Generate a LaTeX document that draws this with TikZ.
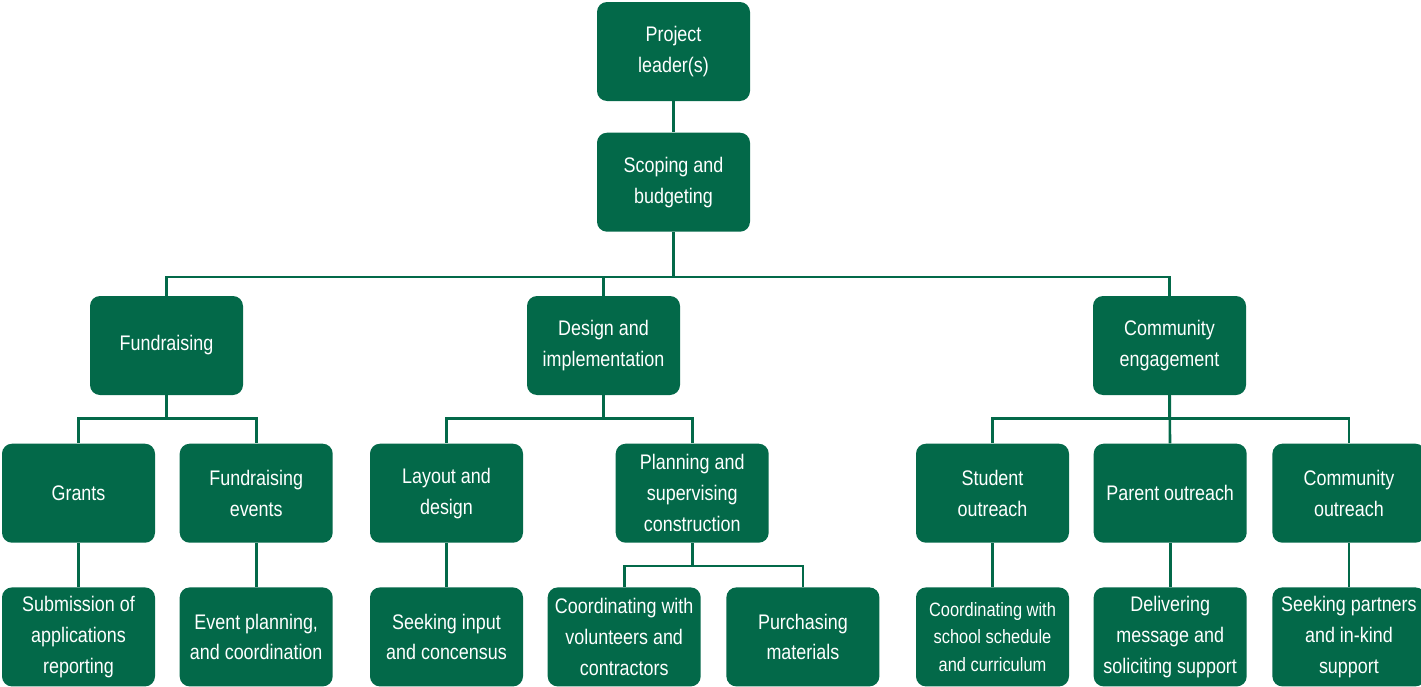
\documentclass[tikz,border=0pt]{standalone}
\usepackage{fontspec}
\setmainfont{Liberation Sans}[FakeStretch=0.85]
\usetikzlibrary{positioning}
\definecolor{verde}{HTML}{036949}

\begin{document}
\begin{tikzpicture}[
 caja/.style={rounded corners=0.2cm,fill=verde,text=white,align=center,minimum width=3.06cm,minimum height=1.98cm,inner sep=2pt,font=\fontsize{12}{17.5}\selectfont},
 linea/.style={draw=verde,line width=1.5pt}]
\useasboundingbox (0,0) rectangle (28.42,-13.74);
% cabeza del organigrama
\node[caja] (lider) at (13.47,-1.03) {Project\\leader(s)};
\node[caja,below=0.62cm of lider] (alcance) {Scoping and\\budgeting};
% tres ramas
\node[caja] (fondos) at (3.33,-6.91) {Fundraising};
\node[caja] (diseno) at (12.07,-6.91) {Design and\\implementation};
\node[caja] (comunidad) at (23.39,-6.91) {Community\\engagement};
% segundo nivel
\node[caja,below=0.96cm of fondos,xshift=-1.76cm] (becas) {Grants};
\node[caja,right=0.48cm of becas] (eventos) {Fundraising\\events};
\node[caja,below=0.96cm of diseno,xshift=-3.14cm] (trazado) {Layout and\\design};
\node[caja,right=1.84cm of trazado] (obra) {Planning and\\supervising\\construction};
\node[caja,below=0.96cm of comunidad,xshift=-3.54cm] (alumnos) {Student\\outreach};
\node[caja,right=0.48cm of alumnos] (padres) {Parent outreach};
\node[caja,right=0.5cm of padres] (vecinos) {Community\\outreach};
% tareas
\node[caja,below=0.88cm of becas] (solicitudes) {Submission of\\applications\\reporting};
\node[caja,below=0.88cm of eventos] (planificacion) {Event planning,\\and coordination};
\node[caja,below=0.88cm of trazado] (consenso) {Seeking input\\and concensus};
\node[caja,below=0.88cm of obra,xshift=-1.36cm] (voluntarios) {Coordinating with\\volunteers and\\contractors};
\node[caja,right=0.5cm of voluntarios] (compras) {Purchasing\\materials};
\node[caja,below=0.88cm of alumnos,font=\fontsize{11}{15.5}\selectfont] (horario) {Coordinating with\\school schedule\\and curriculum};
\node[caja,below=0.88cm of padres] (mensaje) {Delivering\\message and\\soliciting support};
\node[caja,below=0.88cm of vecinos] (socios) {Seeking partners\\and in-kind\\support};
% conectores
\draw[linea] (lider)--(alcance);
\draw[linea] (alcance.south)--++(0,-0.9) -| (fondos.north);
\draw[linea] (alcance.south)--++(0,-0.9) -| (diseno.north);
\draw[linea] (alcance.south)--++(0,-0.9) -| (comunidad.north);
\draw[linea] (fondos.south)--++(0,-0.46) -| (becas.north);
\draw[linea] (fondos.south)--++(0,-0.46) -| (eventos.north);
\draw[linea] (diseno.south)--++(0,-0.46) -| (trazado.north);
\draw[linea] (diseno.south)--++(0,-0.46) -| (obra.north);
\draw[linea] (comunidad.south)--++(0,-0.46) -| (alumnos.north);
\draw[linea] (comunidad)--(padres);
\draw[linea] (comunidad.south)--++(0,-0.46) -| (vecinos.north);
\draw[linea] (becas)--(solicitudes);
\draw[linea] (eventos)--(planificacion);
\draw[linea] (trazado)--(consenso);
\draw[linea] (obra.south)--++(0,-0.46) -| (voluntarios.north);
\draw[linea] (obra.south)--++(0,-0.46) -| (compras.north);
\draw[linea] (alumnos)--(horario);
\draw[linea] (padres)--(mensaje);
\draw[linea] (vecinos)--(socios);
\end{tikzpicture}
\end{document}
